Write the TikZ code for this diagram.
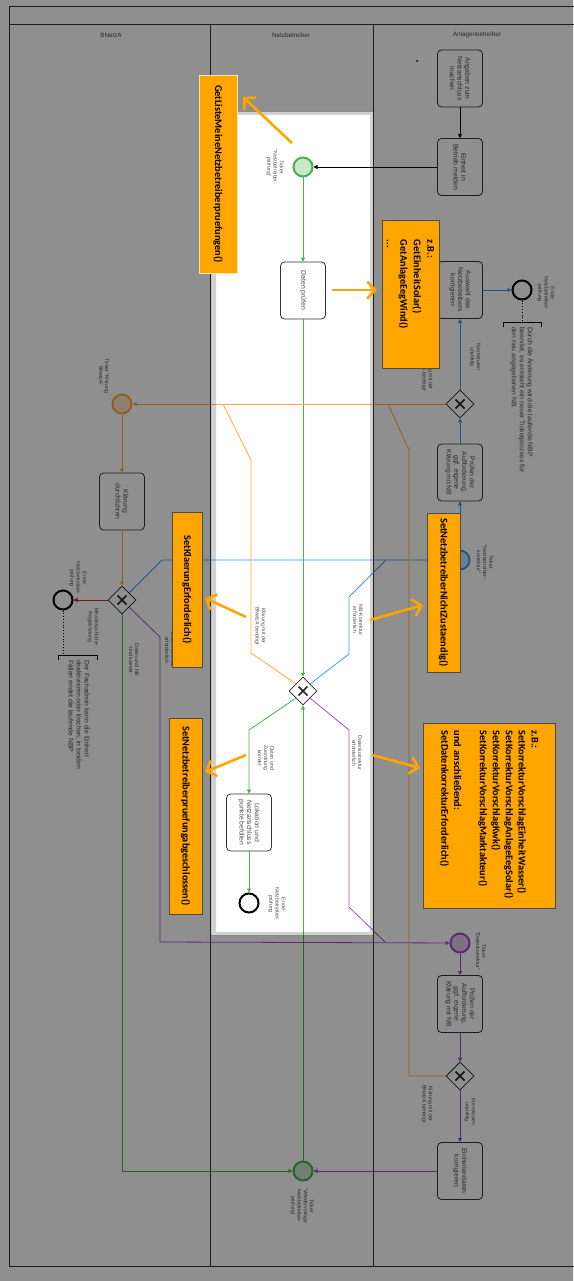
\documentclass[tikz,border=0pt]{standalone}
\usepackage{fontspec}
\setmainfont{Liberation Sans}
\newfontfamily\boxfont{Carlito}
\usetikzlibrary{arrows.meta,shapes.geometric}

\definecolor{flowgreen}{RGB}{76,175,80}
\definecolor{flowblue}{RGB}{61,155,233}
\definecolor{floworange}{RGB}{255,168,64}
\definecolor{flowpurple}{RGB}{160,80,200}
\definecolor{flowred}{RGB}{200,40,40}
\definecolor{apiorange}{RGB}{255,165,0}

\tikzset{
  flow/.style={line width=0.8pt, -{Triangle[length=4pt,width=4pt]}},
  task/.style={draw=black!80, line width=0.8pt, rounded corners=4pt, fill=white, rotate=-90,
    minimum width=57pt, minimum height=45pt, inner sep=1pt, align=center,
    font=\fontsize{6.8}{7.7}\selectfont, text=black!70},
  gateway/.style={diamond, draw=black!85, line width=0.8pt, fill=white, minimum size=28pt, inner sep=0pt,
    path picture={\draw[line width=1.7pt]
      ([shift={(-4.5pt,-4.5pt)}]path picture bounding box.center) -- ([shift={(4.5pt,4.5pt)}]path picture bounding box.center)
      ([shift={(-4.5pt,4.5pt)}]path picture bounding box.center) -- ([shift={(4.5pt,-4.5pt)}]path picture bounding box.center);}},
  endevent/.style={circle, draw=black, line width=2pt, minimum size=19pt, inner sep=0pt, fill=white},
  tevent/.style={circle, draw=#1, fill=#1!30, line width=2pt, minimum size=19pt, inner sep=0pt},
  lbl/.style={rotate=-90, align=center, font=\fontsize{5.2}{6.2}\selectfont, text=black!70, inner sep=0pt},
  note/.style={rotate=-90, align=left, anchor=west, font=\fontsize{6.8}{8}\selectfont, text=black!70, inner sep=0pt},
  apibox/.style={draw=black!70, fill=apiorange, line width=0.8pt, rotate=-90, inner sep=0pt,
    font=\boxfont\bfseries\fontsize{10.3}{13.5}\selectfont},
  hint/.style={draw=apiorange, line width=2.6pt, -{Straight Barb[length=8pt,width=17pt]}},
}

\begin{document}
\begin{tikzpicture}[x=1pt, y=-1pt]
\useasboundingbox (0,0) rectangle (573,1281);
\fill[white] (0,0) rectangle (573,1281);

% pool and lanes
\draw[line width=1pt, black!80] (9,7) rectangle (590,1266);
\draw[line width=1pt, black!80] (9,25) -- (590,25);
\draw[line width=1pt, black!80] (210,25) -- (210,1266);
\draw[line width=1pt, black!80] (373,25) -- (373,1266);
\node[font=\fontsize{6.3}{7}\selectfont, text=black!70] (laneBNetzA) at (111,35) {BNetzA};
\node[font=\fontsize{6.3}{7}\selectfont, text=black!70] (laneNB) at (291,35) {Netzbetreiber};
\node[font=\fontsize{6.3}{7}\selectfont, text=black!70] (laneAB) at (477,35) {Anlagenbetreiber};
\fill (417,61) circle (1);

% tasks, events, gateways
\node[task] (angaben) at (460,78.5) {Angaben zum\\Netzanschluss\\machen};
\node[task] (betrieb) at (460,167) {Einheit in\\Betrieb melden};
\node[tevent=flowgreen] (evStart) at (303,167) {};
\node[task] (datenpruefen) at (303,290.5) {Daten prüfen};
\node[task] (auswahl) at (460,290) {Auswahl des\\Netzbetreibers\\korrigieren};
\node[endevent] (endeA) at (522,290) {};
\node[gateway] (gwA) at (460,404) {};
\node[task] (pruefenA) at (460,472.5) {Prüfen der\\Aufforderung,\\ggf. eigene\\Klärung mit NB};
\node[tevent=flowblue] (evKorr) at (460,560) {};
\node[tevent=floworange] (evKlaer) at (122,404) {};
\node[task] (klaerung) at (122,501.5) {Klärung\\durchführen};
\node[gateway] (gwB) at (122,600) {};
\node[endevent] (endeB) at (63,600) {};
\node[gateway] (gwN) at (303,691) {};
\node[task] (lokation) at (249,822.5) {Lokation und\\Netzanschluss\\punkte befüllen};
\node[endevent] (endeN) at (249,903) {};
\node[tevent=flowpurple] (evDaten) at (460,943) {};
\node[task] (pruefenD) at (460,1004) {Prüfen der\\Aufforderung,\\ggf. eigene\\Klärung mit NB};
\node[gateway] (gwD) at (460,1076) {};
\node[task] (korrigieren) at (460,1171) {Einheitendaten\\korrigieren};
\node[tevent=flowgreen] (evWieder) at (303,1171) {};

% free ends of merging flows
\coordinate (joinOrangeN) at (223,404);
\coordinate (joinOrangeD) at (388,404);
\coordinate (joinBlue) at (386,560);
\coordinate (joinPurple) at (385,942);

% sequence flows
\draw[flow] (angaben) -- (betrieb);
\draw[flow] (betrieb) -- (evStart);
\draw[flow, flowgreen] (evStart) -- (datenpruefen);
\draw[flow, flowgreen] (datenpruefen) -- (gwN);
\draw[flow, flowgreen] (evWieder) -- (gwN);
\draw[flow, flowgreen] (gwN.south west) -- (249,730) -- (lokation);
\draw[flow, flowgreen] (lokation) -- (endeN);
\draw[flow, flowgreen] (gwB) |- (evWieder);
\draw[flow, flowblue] (evKorr) -- (pruefenA);
\draw[flow, flowblue] (pruefenA) -- (gwA);
\draw[flow, flowblue] (gwA) -- (auswahl);
\draw[flow, flowblue] (auswahl) -- (endeA);
\draw[flow, flowblue] (gwB.north east) -- (162,560) -- (evKorr);
\draw[line width=0.8pt, flowblue] (gwN.north east) -- (349,654) -- (349,597) -- (joinBlue);
\draw[flow, floworange] (gwA) -- (evKlaer);
\draw[line width=0.8pt, floworange] (gwN.north west) -- (251,653) -- (251,460) -- (joinOrangeN);
\draw[line width=0.8pt, floworange] (gwD) -- (409,1076) -- (409,450) -- (joinOrangeD);
\draw[flow, floworange] (evKlaer) -- (klaerung);
\draw[flow, floworange] (klaerung) -- (gwB);
\draw[flow, flowred] (gwB) -- (endeB);
\draw[flow, flowpurple] (gwB.south east) -- (160,637) -- (160,942) -- (evDaten);
\draw[line width=0.8pt, flowpurple] (gwN.south east) -- (349,730) -- (349,907) -- (joinPurple);
\draw[flow, flowpurple] (evDaten) -- (pruefenD);
\draw[flow, flowpurple] (pruefenD) -- (gwD);
\draw[flow, flowpurple] (gwD) -- (korrigieren);
\draw[flow, flowpurple] (korrigieren) -- (evWieder);

% labels
\node[lbl] (lbStart) at (275,167) {Ticket\\"Netzbetreiber-\\prüfung"};
\node[lbl] (lbEndeA) at (546,293) {Ende\\Netzbetreiber-\\prüfung};
\node[lbl] (lbUnstrA) at (475,357) {Korrekturen\\unstrittig};
\node[lbl] (lbKlaerA) at (427,372) {Klärung mit der\\BNetzA benötigt};
\node[lbl] (lbKorr) at (485,562) {Ticket\\"Netzbetreiber-\\korrektur"};
\node[lbl] (lbKlaer) at (104,376) {Ticket "Klärung\\BNetzA"};
\node[lbl] (lbMiss) at (93,627) {Missbräuchliche\\Registrierung};
\node[lbl] (lbEndeB) at (78,578) {Ende\\Netzbetreiber-\\prüfung};
\node[lbl] (lbKorrekt) at (134,660) {Daten und NB\\sind korrekt};
\node[lbl] (lbDatenB) at (170,650) {Datenkorrektur\\erforderlich};
\node[lbl] (lbKlaerN) at (260,626) {Klärung mit der\\BNetzA benötigt};
\node[lbl] (lbNBKorr) at (358,620) {NB-Korrektur\\erforderlich};
\node[lbl] (lbZuord) at (266,758) {Daten und\\Zuordnung\\korrekt};
\node[lbl] (lbDatenN) at (357,753) {Datenkorrektur\\erforderlich};
\node[lbl] (lbEndeN) at (277,904) {Ende\\Netzbetreiber-\\prüfung};
\node[lbl] (lbDaten) at (481,951) {Ticket\\"Datenkorrektur"};
\node[lbl] (lbUnstrD) at (470,1112) {Korrekturen\\unstrittig};
\node[lbl] (lbKlaerD) at (427,1104) {Klärung mit der\\BNetzA benötigt};
\node[lbl] (lbWieder) at (302,1206) {Ticket\\"Wiedervorlage\\Netzbetreiber-\\prüfung"};

% text annotations
\coordinate (annoA) at (522,322);
\draw[dotted, line width=0.8pt] (endeA) -- (annoA);
\draw[line width=0.8pt] (503,327) -- (503,322) -- (541,322) -- (541,327);
\node[note] (annoAtext) at (522,327)
  {Durch die Änderung wird die laufende NBP\\beendet, es entsteht ein neuer Ticketprozess für\\den neu angegebenen NB.};
\coordinate (annoB) at (63,655);
\draw[dotted, line width=0.8pt] (endeB) -- (annoB);
\draw[line width=0.8pt] (58,660) -- (58,655) -- (97,655) -- (97,660);
\node[note] (annoBtext) at (79,660)
  {Der Fachadmin kann die Einheit\\deaktivieren oder löschen, in beiden\\Fällen endet die laufende NBP};

% dimming outside the focus area
\fill[black, fill opacity=0.44, even odd rule] (0,0) rectangle (573,1281) (211,112) rectangle (373,935);
\fill[black, fill opacity=0.18, even odd rule] (211,112) rectangle (373,935) (216,115) rectangle (370,932);

% API calls
\node[apibox, draw=white!70!apiorange, minimum width=198pt, minimum height=38pt] (apiListe) at (218,174)
  {GetListeMeineNetzbetreiberpruefungen()};
\node[apibox, minimum height=57pt, text width=108pt, inner xsep=20pt, align=left] (apiGet) at (410.5,294)
  {z.B.:\\GetEinheitSolar()\\GetAnlageEegWind()\\...};
\node[apibox, minimum width=155pt, minimum height=30pt] (apiKlaer) at (187,589.5) {SetKlaerungErforderlich()};
\node[apibox, minimum width=159pt, minimum height=33pt] (apiNicht) at (443.5,592.5) {SetNetzbetreiberNichtZustaendig()};
\node[apibox, minimum width=196pt, minimum height=33pt] (apiAbg) at (185.5,816) {SetNetzbetreiberpruefungabgeschlossen()};
\node[apibox, font=\boxfont\bfseries\fontsize{10.3}{12.9}\selectfont, minimum height=132pt, text width=170pt,
  inner xsep=7.5pt, align=left] (apiKorr) at (489,815.5)
  {z.B.:\\SetKorrekturVorschlagEinheitWasser()\\SetKorrekturVorschlagAnlageEegSolar()\\SetKorrekturVorschlagKwk()\\SetKorrekturVorschlagMarktakteur()\\[12.9pt]und anschließend:\\SetDatenkorrekturErforderlich()};

\coordinate (hintListeA) at (292,143); \coordinate (hintListeB) at (243,97);
\coordinate (hintGetA) at (332,290); \coordinate (hintGetB) at (377,290);
\coordinate (hintKlaerA) at (246,617); \coordinate (hintKlaerB) at (205,598);
\coordinate (hintNichtA) at (370,620); \coordinate (hintNichtB) at (423,605);
\coordinate (hintAbgA) at (246,755); \coordinate (hintAbgB) at (205,772);
\coordinate (hintKorrA) at (372,755); \coordinate (hintKorrB) at (420,768);
\draw[hint] (hintListeA) -- (hintListeB);
\draw[hint] (hintGetA) -- (hintGetB);
\draw[hint] (hintKlaerA) -- (hintKlaerB);
\draw[hint] (hintNichtA) -- (hintNichtB);
\draw[hint] (hintAbgA) -- (hintAbgB);
\draw[hint] (hintKorrA) -- (hintKorrB);
\end{tikzpicture}
\end{document}
